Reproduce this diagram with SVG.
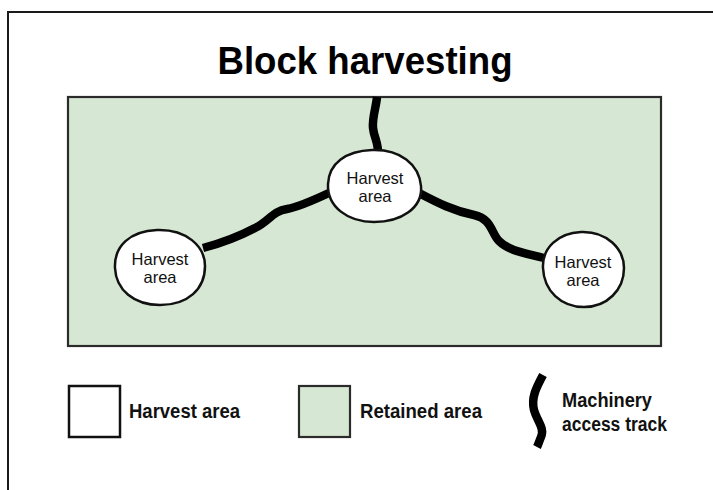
<svg xmlns="http://www.w3.org/2000/svg" width="713" height="490" viewBox="0 0 713 490">
<style>
.frame{fill:none;stroke:#1a1a1a;stroke-width:2}
.retained{fill:#d6e8d3;stroke:#2b2b2b;stroke-width:2.2}
.harvest{fill:#ffffff;stroke:#111;stroke-width:2.5}
.track{fill:none;stroke:#000;stroke-width:8.5;stroke-linecap:butt;stroke-linejoin:round}
.blobtxt{font-family:"Liberation Sans",Arial,sans-serif;font-size:16.5px;fill:#111;text-anchor:middle}
.title{font-family:"Liberation Sans",Arial,sans-serif;font-size:38px;font-weight:bold;fill:#000;text-anchor:middle}
.legtxt{font-family:"Liberation Sans",Arial,sans-serif;font-size:20px;font-weight:bold;fill:#111}
</style>
<rect x="0" y="0" width="713" height="490" fill="#fff"/>
<path class="frame" d="M 8 500 L 8 12 L 720 12"/>
<text class="title" x="365" y="74" textLength="295" lengthAdjust="spacingAndGlyphs">Block harvesting</text>
<g id="retained-area">
<rect class="retained" x="68" y="97" width="593" height="249"/>
</g>
<g id="connectors">
<path class="track" d="M 377 97 C 376 108, 372 118, 373 128 C 374 138, 379 143, 378 156"/>
<path class="track" d="M 331 192 C 312 201, 298 207, 287 209 C 273 211, 268 222, 255 228 C 238 237, 222 243, 203 248"/>
<path class="track" d="M 419 193 C 438 203, 454 211, 474 215 C 492 219, 491 233, 499 241 C 509 251, 525 253, 544 258"/>
</g>
<g id="harvest-center">
<path class="harvest" d="M 372 150 C 400 149, 419 164, 421 186 C 423 208, 401 222, 374 222 C 348 222, 327 207, 328 184 C 329 163, 346 151, 372 150 Z"/>
<text class="blobtxt" x="375" y="184">Harvest</text>
<text class="blobtxt" x="375" y="202">area</text>
</g>
<g id="harvest-left">
<path class="harvest" d="M 157 230 C 186 229, 205 246, 205 266 C 205 289, 188 305, 160 305 C 134 305, 116 290, 115 268 C 114 246, 130 231, 157 230 Z"/>
<text class="blobtxt" x="160" y="265">Harvest</text>
<text class="blobtxt" x="160" y="283">area</text>
</g>
<g id="harvest-right">
<path class="harvest" d="M 581 232 C 607 231, 624 249, 624 268 C 624 290, 607 307, 584 307 C 561 307, 544 291, 543 268 C 542 248, 558 233, 581 232 Z"/>
<text class="blobtxt" x="583" y="268">Harvest</text>
<text class="blobtxt" x="583" y="286">area</text>
</g>
<g id="legend-harvest">
<rect class="harvest" x="69" y="386" width="51" height="51" stroke-width="2.2"/>
<text class="legtxt" x="129" y="418" textLength="111" lengthAdjust="spacingAndGlyphs">Harvest area</text>
</g>
<g id="legend-retained">
<rect class="retained" x="299" y="386" width="51" height="51"/>
<text class="legtxt" x="360" y="418" textLength="122" lengthAdjust="spacingAndGlyphs">Retained area</text>
</g>
<g id="legend-track">
<path class="track" stroke-width="7" d="M 543 375 C 536 388, 531 398, 534 410 C 537 421, 545 428, 541 437 C 539 442, 538 445, 537 447"/>
<text class="legtxt" x="562" y="407" textLength="90" lengthAdjust="spacingAndGlyphs">Machinery</text>
<text class="legtxt" x="562" y="431" textLength="105" lengthAdjust="spacingAndGlyphs">access track</text>
</g>
</svg>
